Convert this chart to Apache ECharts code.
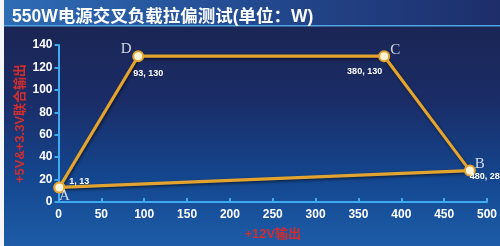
<!DOCTYPE html>
<html>
<head>
<meta charset="utf-8">
<script src="https://cdn.jsdelivr.net/npm/echarts@6/dist/echarts.min.js"></script>
<style>
  html, body { margin: 0; padding: 0; background: #ffffff; }
  #chart { width: 500px; height: 246px; }
</style>
</head>
<body>
<div id="chart"></div>
<script>
// Cross-load corners of the 550W supply: +12V load vs combined +5V&+3.3V load (W)
const cornerNames = ['A', 'D', 'C', 'B'];
const load12V = [1, 93, 380, 480];
const load5V33V = [13, 130, 130, 28];
const xTicks = [0, 50, 100, 150, 200, 250, 300, 350, 400, 450, 500];
const yTicks = [0, 20, 40, 60, 80, 100, 120, 140];

// label placement for each corner (value text and corner letter)
const valueLabelStyle = {
  A: { offset: [10, -6], align: 'left' },
  D: { offset: [-5, 17], align: 'left' },
  C: { offset: [-2, 15], align: 'right' },
  B: { offset: [0, 6], align: 'left' }
};
const letterLabelStyle = {
  A: { offset: [5, 9] },
  D: { offset: [-12, -7] },
  C: { offset: [11, -6] },
  B: { offset: [10, -7] }
};

const corners = cornerNames.map((n, i) => ({ name: n, value: [load12V[i], load5V33V[i]] }));
// closed outline A -> D -> C -> B -> A
const outline = corners.concat([corners[0]]).map((c, i) => ({
  name: c.name,
  value: c.value,
  label: {
    show: i < corners.length,
    position: 'inside',
    offset: valueLabelStyle[c.name].offset,
    align: valueLabelStyle[c.name].align,
    verticalAlign: 'middle'
  }
}));
const letters = corners.map(c => ({
  name: c.name,
  value: c.value,
  label: {
    show: true,
    position: 'inside',
    offset: letterLabelStyle[c.name].offset,
    align: 'center',
    verticalAlign: 'middle'
  }
}));

const chart = echarts.init(document.getElementById('chart'), null, { renderer: 'canvas' });
const axisBlue = '#3eaaf0';
const labelFont = { color: '#ffffff', fontSize: 12, fontWeight: 'bold', fontFamily: 'Liberation Sans, Arial, sans-serif' };
const nameFont = { color: '#d22d2d', fontSize: 13, fontWeight: 'bold', fontFamily: 'Liberation Sans, Noto Sans CJK SC, sans-serif' };

chart.setOption({
  animation: false,
  graphic: [
    { type: 'rect', z: -10, shape: { x: 0, y: 0, width: 500, height: 246 }, style: { fill: '#f4f6fa' } },
    {
      type: 'rect', z: -9, shape: { x: 4, y: 25, width: 496, height: 221 },
      style: {
        fill: new echarts.graphic.LinearGradient(0, 0, 0, 1, [
          { offset: 0, color: '#1b2554' },
          { offset: 0.35, color: '#1a2d68' },
          { offset: 0.7, color: '#14478f' },
          { offset: 1, color: '#1d5ca8' }
        ])
      }
    },
    {
      type: 'rect', z: -8, shape: { x: 4, y: 0, width: 496, height: 25 },
      style: {
        fill: new echarts.graphic.LinearGradient(0, 0, 1, 0, [
          { offset: 0, color: '#2e6cb6' },
          { offset: 0.5, color: '#234a90' },
          { offset: 1, color: '#1d2e6a' }
        ])
      }
    },
    { type: 'rect', z: -7, shape: { x: 4, y: 25, width: 496, height: 1.5 }, style: { fill: '#4da3e2' } }
  ],
  title: {
    text: '550W电源交叉负载拉偏测试(单位：W)',
    left: 7,
    top: 3,
    textStyle: { color: '#ffffff', fontSize: 17.5, fontWeight: 'bold', fontFamily: 'Liberation Sans, Noto Sans CJK SC, sans-serif' }
  },
  grid: { left: 58.5, right: 13, top: 45, bottom: 43.5, containLabel: false },
  xAxis: {
    type: 'value', min: 0, max: 500, interval: 50,
    name: '+12V输出', nameLocation: 'middle', nameGap: 26, nameMoveOverlap: false, nameTextStyle: nameFont,
    axisLine: { show: true, lineStyle: { color: axisBlue, width: 2 } },
    axisTick: { show: true, inside: true, length: 4, lineStyle: { color: axisBlue, width: 2 } },
    axisLabel: Object.assign({ margin: 7, formatter: v => xTicks.includes(v) ? String(v) : '' }, labelFont),
    splitLine: { show: false }
  },
  yAxis: {
    type: 'value', min: 0, max: 140, interval: 20,
    name: '+5V&+3.3V联合输出', nameLocation: 'middle', nameRotate: 90, nameGap: 32, nameMoveOverlap: false, nameTextStyle: nameFont,
    axisLine: { show: true, lineStyle: { color: axisBlue, width: 2 } },
    axisTick: { show: true, inside: false, length: 4, lineStyle: { color: axisBlue, width: 2 } },
    axisLabel: Object.assign({ margin: 6, formatter: v => yTicks.includes(v) ? String(v) : '' }, labelFont),
    splitLine: { show: false }
  },
  series: [
    {
      type: 'line',
      data: outline,
      symbol: 'circle',
      symbolSize: 10,
      lineStyle: { color: '#e2a32f', width: 3.2, shadowColor: 'rgba(0,0,0,0.55)', shadowBlur: 3, shadowOffsetX: 1, shadowOffsetY: 1.5 },
      itemStyle: { color: '#fff3d8', borderColor: '#e2a32f', borderWidth: 2 },
      label: {
        color: '#ffffff', fontSize: 9, fontWeight: 'bold', fontFamily: 'Liberation Sans, Arial, sans-serif',
        formatter: p => p.value[0] + ', ' + p.value[1]
      },
      z: 3
    },
    {
      type: 'scatter',
      data: letters,
      symbolSize: 1,
      itemStyle: { color: 'rgba(0,0,0,0)' },
      label: {
        color: '#ffffff', fontSize: 15, fontFamily: 'Liberation Serif, DejaVu Serif, serif',
        formatter: p => p.name
      },
      z: 4
    }
  ]
});
</script>
</body>
</html>
